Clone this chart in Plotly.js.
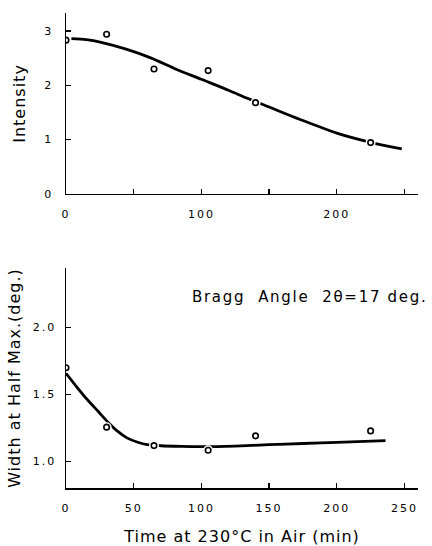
<!DOCTYPE html>
<html>
<head>
<meta charset="utf-8">
<script src="https://cdn.plot.ly/plotly-3.0.1.min.js"></script>
<style>
  html, body { margin: 0; padding: 0; background: #fff; }
  #chart { width: 432px; height: 546px; }
  .xtick text, .x2tick text, .ytick text, .y2tick text { letter-spacing: 2px; }
  .xtitle, .ytitle, .y2title { letter-spacing: 1px; }
  .annotation-text { letter-spacing: 1.7px; }
</style>
</head>
<body>
<div id="chart"></div>
<script>
// ---- Data ----
// Upper panel: Intensity vs time
const intensityTime = [0, 30, 65, 105, 140, 225];
const intensityValue = [2.83, 2.94, 2.30, 2.27, 1.68, 0.945];
// Fitted curve drawn through the upper panel
const intensityCurveTime = [4, 15, 26, 45, 63, 80, 100, 120, 134, 150, 173, 200, 225, 248];
const intensityCurveValue = [2.86, 2.84, 2.79, 2.66, 2.50, 2.31, 2.11, 1.91, 1.76, 1.60, 1.37, 1.12, 0.95, 0.83];

// Lower panel: Width at half max vs time
const widthTime = [0, 30, 65, 105, 140, 225];
const widthValue = [1.70, 1.255, 1.117, 1.082, 1.19, 1.227];
// Fitted curve drawn through the lower panel
const widthCurveTime = [0, 8, 16, 24, 31, 38, 45, 53, 60, 70, 85, 100, 125, 150, 175, 200, 236];
const widthCurveValue = [1.658, 1.555, 1.458, 1.37, 1.292, 1.225, 1.175, 1.142, 1.124, 1.116, 1.111, 1.109, 1.114, 1.124, 1.133, 1.141, 1.154];

// Tick values / labels
const timeTicks = [0, 50, 100, 150, 200, 250];
const timeTickLabelsBottom = ['0', '50', '100', '150', '200', '250'];
const timeTickLabelsTop = ['0', '', '100', '', '200', ''];
const intensityTicks = [0, 1, 2, 3];
const intensityTickLabels = ['0', '1', '2', '3'];
const widthTicks = [1.0, 1.5, 2.0];
const widthTickLabels = ['1.0', '1.5', '2.0'];

const xTitle = 'Time at 230°C in Air (min)';
const yTitleTop = 'Intensity';
const yTitleBottom = 'Width at Half Max.(deg.)';
const noteText = 'Bragg\u00a0 Angle\u00a0 2θ=17 deg.';

// ---- Traces ----
const FONT = 'DejaVu Sans, Liberation Sans, sans-serif';

function panelTraces(cx, cy, px, py, xa, ya) {
  return [
    { x: cx, y: cy, xaxis: xa, yaxis: ya, type: 'scatter', mode: 'lines',
      line: { color: '#000', width: 2.8, shape: 'spline', smoothing: 0.8 },
      hoverinfo: 'skip', showlegend: false },
    { x: px, y: py, xaxis: xa, yaxis: ya, type: 'scatter', mode: 'markers',
      marker: { symbol: 'circle', size: 10, color: '#fff', line: { width: 0 } },
      hoverinfo: 'skip', showlegend: false },
    { x: px, y: py, xaxis: xa, yaxis: ya, type: 'scatter', mode: 'markers',
      marker: { symbol: 'circle-open', size: 5.5, color: '#000', line: { width: 1.6, color: '#000' } },
      showlegend: false }
  ];
}

const data = [].concat(
  panelTraces(intensityCurveTime, intensityCurveValue, intensityTime, intensityValue, 'x2', 'y2'),
  panelTraces(widthCurveTime, widthCurveValue, widthTime, widthValue, 'x', 'y')
);

const axisCommon = {
  showgrid: false, zeroline: false, showline: true, linecolor: '#000', linewidth: 1.5,
  ticks: 'inside', ticklen: 5, tickwidth: 1.3, tickcolor: '#000',
  tickfont: { family: FONT, size: 11, color: '#000' },
  tickmode: 'array', fixedrange: true
};

const layout = {
  width: 432, height: 546,
  margin: { l: 66, r: 14, t: 13, b: 58 },
  paper_bgcolor: '#fff', plot_bgcolor: '#fff',
  showlegend: false,
  font: { family: FONT, color: '#000' },
  xaxis: Object.assign({}, axisCommon, {
    domain: [0, 1], range: [0, 260], anchor: 'y',
    tickvals: timeTicks, ticktext: timeTickLabelsBottom, ticklabelstandoff: 9,
    title: { text: xTitle, font: { family: FONT, size: 16, color: '#000' }, standoff: 20 }
  }),
  yaxis: Object.assign({}, axisCommon, {
    domain: [0, 0.463], range: [0.80, 2.445], anchor: 'x',
    tickvals: widthTicks, ticktext: widthTickLabels, ticklabelstandoff: 6,
    title: { text: yTitleBottom, font: { family: FONT, size: 16, color: '#000' }, standoff: 8 }
  }),
  xaxis2: Object.assign({}, axisCommon, {
    domain: [0, 1], range: [0, 260], anchor: 'y2',
    tickvals: timeTicks, ticktext: timeTickLabelsTop, ticklabelstandoff: 9
  }),
  yaxis2: Object.assign({}, axisCommon, {
    domain: [0.619, 1], range: [0, 3.33], anchor: 'x2',
    tickvals: intensityTicks, ticktext: intensityTickLabels, ticklabelstandoff: 9,
    title: { text: yTitleTop, font: { family: FONT, size: 16, color: '#000' }, standoff: 14 }
  }),
  annotations: [{
    text: noteText, xref: 'paper', yref: 'y', x: 1.03, y: 2.23,
    xanchor: 'right', yanchor: 'middle', showarrow: false,
    font: { family: FONT, size: 15, color: '#000' }
  }]
};

Plotly.newPlot('chart', data, layout, { displayModeBar: false, staticPlot: true });
</script>
</body>
</html>
